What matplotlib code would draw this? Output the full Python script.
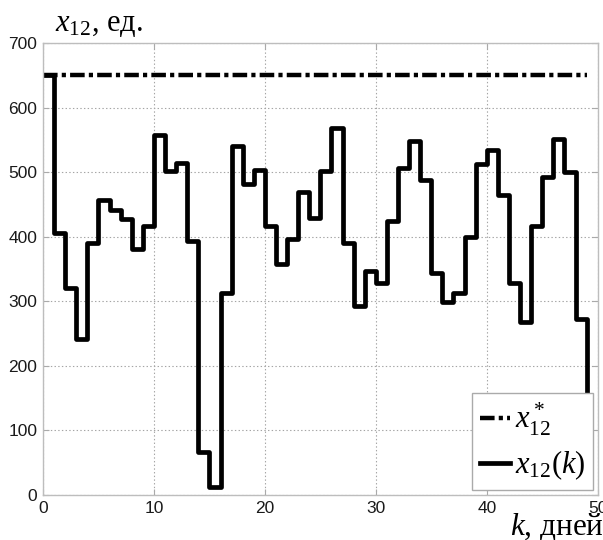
import numpy as np
import matplotlib
matplotlib.use("Agg")
import matplotlib.pyplot as plt

# ---- data ----
k_days = list(range(0, 50))
x12_values = [650, 405, 320, 242, 390, 457, 441, 427, 381, 416,
              557, 502, 514, 394, 67, 12, 313, 541, 481, 504,
              416, 358, 396, 470, 429, 501, 568, 390, 293, 347,
              329, 425, 507, 548, 488, 344, 299, 313, 400, 512,
              534, 464, 328, 268, 416, 492, 552, 500, 273, 100]
x12_star = 650
x_ticks = [0, 10, 20, 30, 40, 50]
y_ticks = [0, 100, 200, 300, 400, 500, 600, 700]

plt.rcParams['mathtext.fontset'] = 'custom'
plt.rcParams['mathtext.rm'] = 'Liberation Serif'
plt.rcParams['mathtext.it'] = 'Liberation Serif:italic'
plt.rcParams['mathtext.bf'] = 'Liberation Serif:bold'
plt.rcParams['lines.scale_dashes'] = False

fig = plt.figure(figsize=(6.03, 5.40), dpi=100)
ax = fig.add_axes([43/603, 1-495/540, (597.7-43)/603, (495-43)/540])

ax.hlines(x12_star, k_days[0], k_days[-1], colors='black', linewidth=3.2,
          linestyles=(0, (10.5, 3.0, 3.0, 3.0)), label=r'$x^*_{12}$')
ax.step(k_days, x12_values, where='post', color='black', linewidth=3.4,
        label=r'$x_{12}(k)$')

ax.set_xlim(0, 50)
ax.set_ylim(0, 700)
ax.set_xticks(x_ticks)
ax.set_yticks(y_ticks)
ax.set_xticklabels([str(v) for v in x_ticks], fontfamily='Liberation Sans', fontsize=12.5, color='#1a1a1a')
ax.set_yticklabels([str(v) for v in y_ticks], fontfamily='Liberation Sans', fontsize=12.5, color='#1a1a1a')
ax.tick_params(direction='in', length=4, color='#aaaaaa', top=True, right=True, pad=4)
ax.grid(True, linestyle=':', color='#a5a5a5', linewidth=0.8)
for s in ax.spines.values():
    s.set_color('#bdbdbd')
    s.set_linewidth(1.0)

leg = ax.legend(loc='lower right', bbox_to_anchor=(0.9915, 0.011), borderaxespad=0,
                prop={'family': 'Liberation Serif', 'size': 22}, handlelength=1.0,
                handletextpad=0.15, labelspacing=0.35, borderpad=0.25,
                fancybox=False, framealpha=1.0, edgecolor='#aaaaaa')
leg.get_frame().set_linewidth(1.0)

fig.text(55/603, 1-31/540, r'$x_{12}$, ед.', fontfamily='Liberation Serif', fontsize=22,
         ha='left', va='baseline')
fig.text(510/603, 1-535/540, r'$k$, дней', fontfamily='Liberation Serif', fontsize=22.5,
         ha='left', va='baseline')

fig.savefig('out.png', dpi=100)
